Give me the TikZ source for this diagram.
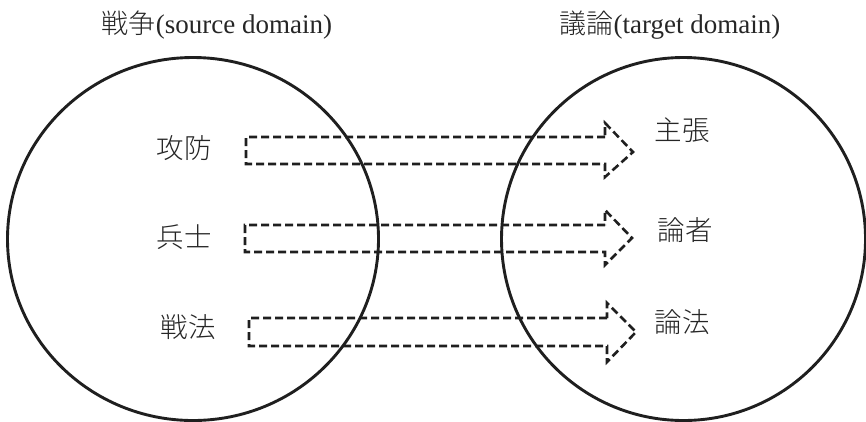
\documentclass[tikz,border=0pt]{standalone}
\usepackage{fontspec}
\setmainfont{Liberation Serif}
\newfontfamily\cjk{Noto Sans CJK JP Light}
\begin{document}
\begin{tikzpicture}[x=1pt,y=-1pt,
  domainc/.style={draw=black!88,line width=2.9pt},
  lbl/.style={font=\fontsize{27.5}{32}\selectfont\cjk,inner sep=0pt,text=black!85},
  ttl/.style={font=\fontsize{27}{32}\selectfont,inner sep=0pt,text=black!85},
  maparrow/.style={draw=black!88,line width=2.6pt,dash pattern=on 8pt off 4pt,line join=miter}]
\useasboundingbox (0,0) rectangle (866,421);
\draw[domainc] (193,239) ellipse [x radius=185.5,y radius=181.5];
\draw[domainc] (683.5,239) ellipse [x radius=182,y radius=181.5];
\node[ttl] (src) at (217,25) {{\cjk 戦争}(source domain)};
\node[ttl] (tgt) at (670,25) {{\cjk 議論}(target domain)};
\node[lbl] (a1) at (184,148) {攻防};
\node[lbl] (a2) at (184,237) {兵士};
\node[lbl] (a3) at (188,327) {戦法};
\node[lbl] (b1) at (682,130) {主張};
\node[lbl] (b2) at (685,230) {論者};
\node[lbl] (b3) at (682,322) {論法};
\draw[maparrow] (605,137) -- (246,137) -- (246,164) -- (605,164) -- (605,177) -- (633,152) -- (605,123) -- cycle;
\draw[maparrow] (605,225) -- (245,225) -- (245,252) -- (605,252) -- (605,265) -- (632,238) -- (605,210) -- cycle;
\draw[maparrow] (607,318) -- (249,318) -- (249,346) -- (607,346) -- (607,362) -- (636,332) -- (607,303) -- cycle;
\end{tikzpicture}
\end{document}
